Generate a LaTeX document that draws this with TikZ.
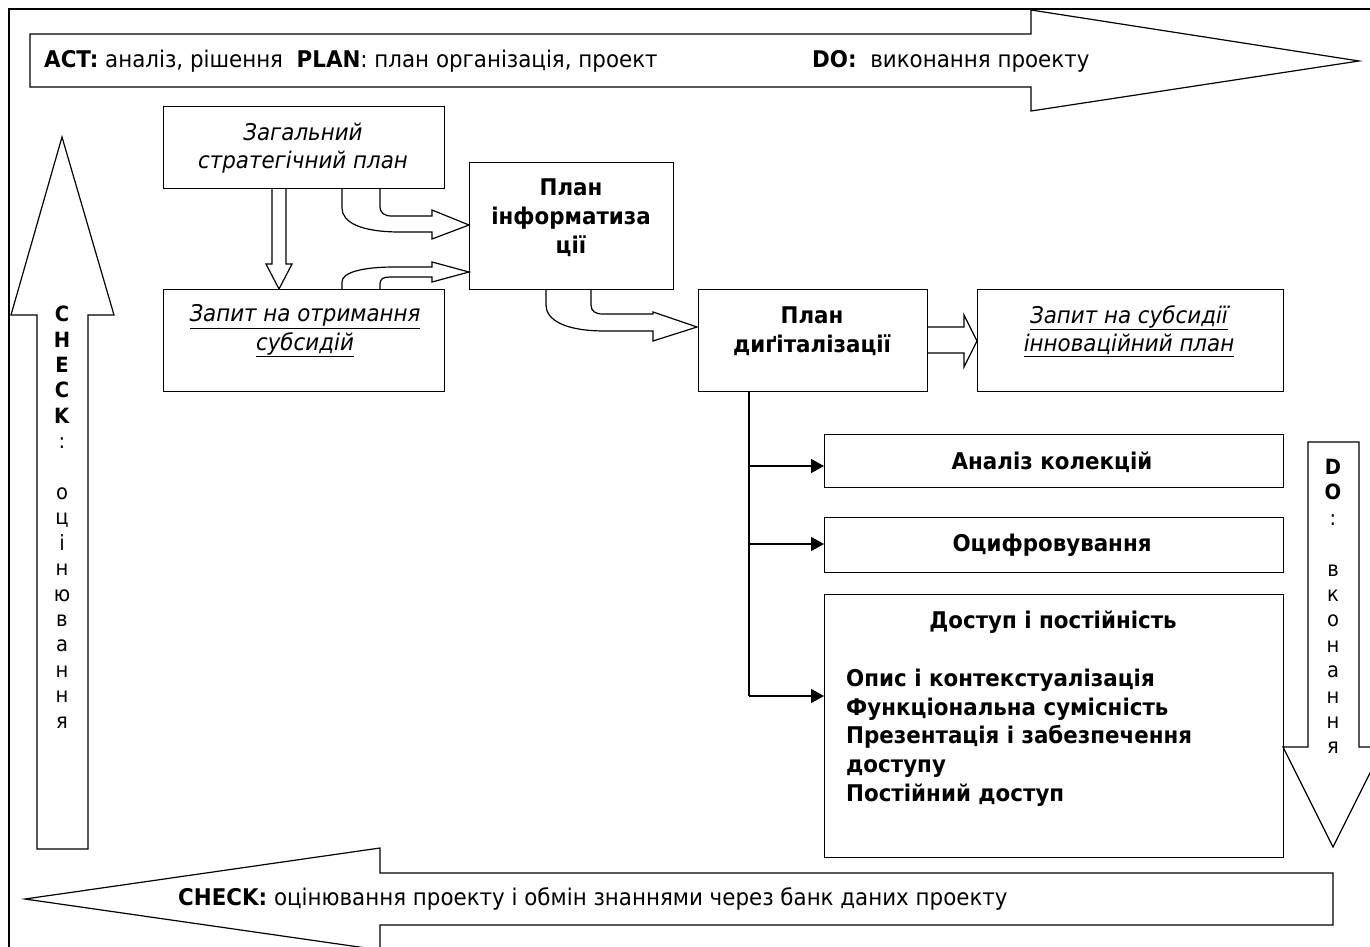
\documentclass[tikz,border=0pt]{standalone}
\usepackage{fontspec}
\setmainfont[FakeStretch=0.93]{DejaVu Sans}
\usetikzlibrary{arrows.meta}
\begin{document}
\begin{tikzpicture}[x=1pt,y=-1pt,
  frm/.style={line width=1.3pt},
  box/.style={draw, line width=1.4pt, inner sep=0pt, anchor=north west},
  blk/.style={line width=1.2pt, line join=miter},
  txt/.style={font=\fontsize{23}{28.5}\selectfont, align=center, inner sep=0pt},
  vtxt/.style={font=\fontsize{21}{25.4}\selectfont, align=center, inner sep=0pt, anchor=north},
  lnk/.style={line width=1.3pt, -{Triangle[length=13pt,width=14pt]}}]
\useasboundingbox (0,0) rectangle (1370,947);
\fill[white] (0,0) rectangle (1370,947);
\clip (0,0) rectangle (1370,947);
% outer frame
\draw[frm] (9,9) rectangle (1420,1000);
% top arrow ACT/PLAN/DO
\draw[blk] (30,34) -- (1031,34) -- (1031,10) -- (1359,61) -- (1031,111) -- (1031,87) -- (30,87) -- cycle;
\node[txt, anchor=west] (actt) at (44,61) {\textbf{ACT:} аналіз, рішення \ \textbf{PLAN}: план організація, проект};
\node[txt, anchor=west] (dot) at (812,61) {\textbf{DO:} \ виконання проекту};
% bottom arrow CHECK
\draw[blk] (1333,873) -- (380,873) -- (380,848) -- (25,899) -- (380,950) -- (380,925) -- (1333,925) -- cycle;
\node[txt, anchor=west] (checkt) at (178,899) {\textbf{CHECK:} оцінювання проекту і обмін знаннями через банк даних проекту};
% left arrow CHECK
\draw[blk] (37,849) -- (37,315) -- (11,315) -- (62,137) -- (114,315) -- (88,315) -- (88,849) -- cycle;
\node[vtxt] (checkv) at (62,306) {\textbf{C}\\\textbf{H}\\\textbf{E}\\\textbf{C}\\\textbf{K}\\:\\\mbox{}\\о\\ц\\і\\н\\ю\\в\\а\\н\\н\\я};
% right arrow DO
\draw[blk] (1308,442) -- (1359,442) -- (1359,747) -- (1383,747) -- (1333,847) -- (1283,747) -- (1308,747) -- cycle;
\node[vtxt] (dov) at (1333,459) {\textbf{D}\\\textbf{O}\\:\\\mbox{}\\в\\к\\о\\н\\а\\н\\н\\я};
% boxes
\node[box, minimum width=281pt, minimum height=82pt] (zag) at (163,106) {};
\node[txt] (zagt) at (303,148) {\itshape Загальний\\\itshape стратегічний план};
\node[box, minimum width=281pt, minimum height=102pt] (zap) at (163,289) {};
\node[txt] (zapt) at (305,331) {\itshape\underline{Запит на отримання}\\\itshape\underline{субсидій}};
\node[box, minimum width=204pt, minimum height=127pt] (inf) at (469,162) {};
\node[txt, font=\fontsize{23}{29}\selectfont\bfseries] (inft) at (571,218) {План\\інформатиза\\ції};
\node[box, minimum width=229pt, minimum height=102pt] (dig) at (698,289) {};
\node[txt, font=\fontsize{23}{28.5}\selectfont\bfseries] (digt) at (812,331) {План\\диґіталізації};
\node[box, minimum width=306pt, minimum height=102pt] (sub) at (977,289) {};
\node[txt] (subt) at (1129,331) {\itshape\underline{Запит на субсидії}\\\itshape\underline{інноваційний план}};
\node[box, minimum width=459pt, minimum height=53pt] (ana) at (824,434) {};
\node[txt, font=\fontsize{23}{28.5}\selectfont\bfseries] (anat) at (1052,462) {Аналіз колекцій};
\node[box, minimum width=459pt, minimum height=55pt] (ocy) at (824,517) {};
\node[txt, font=\fontsize{23}{28.5}\selectfont\bfseries] (ocyt) at (1052,545) {Оцифровування};
\node[box, minimum width=459pt, minimum height=263pt] (dos) at (824,594) {};
\node[txt, font=\fontsize{23}{28.5}\selectfont\bfseries] (dost) at (1053,622) {Доступ і постійність};
\node[txt, font=\fontsize{23}{28.6}\selectfont\bfseries, align=left, anchor=north west] (dosl) at (846,669) {Опис і контекстуалізація\\Функціональна сумісність\\Презентація і забезпечення\\доступу\\Постійний доступ};
% block arrow down
\draw[blk] (272,188) -- (272,264) -- (266,264) -- (279,289) -- (292,264) -- (286,264) -- (286,188);
% curved arrow A
\draw[blk] (380,188) -- (380,206) .. controls (380,213) and (384,216) .. (392,216) -- (432,216) -- (432,210) -- (469,225) -- (432,239) -- (432,232) -- (400,232) .. controls (360,232) and (342,222) .. (342,208) -- (342,188);
% curved arrow B
\draw[blk] (380,289) -- (380,284) .. controls (380,279) and (383,277) .. (390,277) -- (432,277) -- (432,282) -- (469,272) -- (432,262) -- (432,267) -- (395,267) .. controls (360,267) and (342,273) .. (342,282) -- (342,289);
% curved arrow C
\draw[blk] (591,289) -- (591,305) .. controls (591,311) and (595,314) .. (603,314) -- (653,314) -- (653,312) -- (697,327) -- (653,341) -- (653,331) -- (605,331) .. controls (565,331) and (546,320) .. (546,305) -- (546,289);
% block arrow D
\draw[blk] (927,327) -- (964,327) -- (964,315) -- (977,341) -- (964,367) -- (964,353) -- (927,353);
% tree links
\coordinate (v0) at (749,391);
\coordinate (v1) at (749,466);
\coordinate (v2) at (749,544);
\coordinate (v3) at (749,696);
\draw[line width=1.3pt] (v0) -- (v3);
\draw[lnk] (v1) -- (v1 -| ana.west);
\draw[lnk] (v2) -- (v2 -| ocy.west);
\draw[lnk] (v3) -- (v3 -| dos.west);
\end{tikzpicture}
\end{document}
